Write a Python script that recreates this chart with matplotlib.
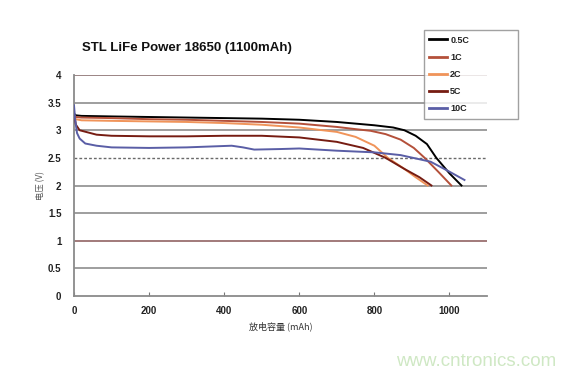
import numpy as np
import matplotlib
matplotlib.use("Agg")
import matplotlib.pyplot as plt

plt.rcParams['font.family'] = ['Liberation Sans', 'Noto Sans CJK SC', 'DejaVu Sans']

# discharge curves: capacity (mAh) vs voltage (V)
cap_05c = [0, 5, 20, 100, 200, 300, 400, 500, 600, 650, 700, 750, 800, 850, 880, 910, 940, 965, 1000, 1032]
v_05c = [3.30, 3.27, 3.26, 3.25, 3.24, 3.23, 3.22, 3.21, 3.19, 3.17, 3.15, 3.12, 3.09, 3.05, 3.00, 2.90, 2.75, 2.50, 2.22, 2.00]

cap_1c = [0, 5, 20, 100, 200, 300, 400, 500, 600, 650, 700, 750, 790, 830, 870, 905, 934, 970, 1005]
v_1c = [3.28, 3.24, 3.23, 3.22, 3.20, 3.19, 3.17, 3.15, 3.12, 3.09, 3.06, 3.02, 2.99, 2.93, 2.83, 2.68, 2.50, 2.25, 2.00]

cap_2c = [0, 5, 20, 100, 200, 300, 400, 500, 600, 700, 750, 800, 836, 880, 910, 942]
v_2c = [3.25, 3.20, 3.18, 3.17, 3.16, 3.15, 3.13, 3.10, 3.05, 2.97, 2.88, 2.72, 2.50, 2.30, 2.15, 2.00]

cap_5c = [0, 5, 15, 60, 100, 200, 300, 400, 500, 600, 700, 770, 830, 880, 920, 952]
v_5c = [3.30, 3.10, 3.00, 2.92, 2.90, 2.89, 2.89, 2.90, 2.90, 2.87, 2.79, 2.68, 2.50, 2.30, 2.15, 2.00]

cap_10c = [0, 3, 8, 15, 30, 60, 100, 200, 300, 380, 420, 450, 480, 550, 600, 700, 800, 870, 950, 1000, 1040]
v_10c = [3.45, 3.20, 2.95, 2.85, 2.76, 2.72, 2.69, 2.68, 2.69, 2.71, 2.72, 2.69, 2.65, 2.66, 2.67, 2.63, 2.60, 2.55, 2.43, 2.25, 2.10]

labels = ['0.5C', '1C', '2C', '5C', '10C']
colors = ['#000000', '#b4503a', '#f0945a', '#761c12', '#5a5ea6']

y_ticks = [0, 0.5, 1, 1.5, 2, 2.5, 3, 3.5, 4]
x_ticks = [0, 200, 400, 600, 800, 1000]

fig = plt.figure(figsize=(5.64, 3.77), dpi=100)
ax = fig.add_axes([74 / 564, 1 - 296 / 377, (487 - 74) / 564, (296 - 75) / 377])

# horizontal grid lines
for y in y_ticks[1:]:
    if y == 2.5:
        ax.axhline(y, color='#6a6a6a', lw=1.0, ls=(0, (2, 1.5)), zorder=1)
    elif y == 1:
        ax.axhline(y, color='#9a7070', lw=1.3, zorder=1)
    elif y == 4:
        ax.axhline(y, color='#8a7070', lw=1.2, zorder=1)
    else:
        ax.axhline(y, color='#8e8e8e', lw=1.2, zorder=1)

series = [(cap_05c, v_05c), (cap_1c, v_1c), (cap_2c, v_2c), (cap_5c, v_5c), (cap_10c, v_10c)]
for (c, v), lab, col in zip(series, labels, colors):
    ax.plot(c, v, color=col, lw=1.4, label=lab, zorder=3)

ax.set_xlim(0, 1100)
ax.set_ylim(0, 4)
ax.set_xticks(x_ticks)
ax.set_yticks(y_ticks)
ax.set_yticklabels(['0', '0.5', '1', '1.5', '2', '2.5', '3', '3.5', '4'])
ax.tick_params(axis='x', direction='in', length=3, color='#777777', labelsize=7, pad=7)
ax.tick_params(axis='y', length=0, labelsize=7, pad=9)
for t in ax.get_xticklabels() + ax.get_yticklabels():
    t.set_fontweight('bold')
    t.set_color('#222222')

for s in ['top', 'right']:
    ax.spines[s].set_visible(False)
for s in ['left', 'bottom']:
    ax.spines[s].set_color('#8a8a8a')
    ax.spines[s].set_linewidth(1.3)

ax.set_xlabel('放电容量 (mAh)', fontsize=6.5, color='#333333', labelpad=4,
              family=['Noto Sans CJK SC', 'DejaVu Sans'])
ax.set_ylabel('电压 (V)', fontsize=6, color='#555555', labelpad=2,
              family=['Noto Sans CJK SC', 'DejaVu Sans'])

fig.text(82 / 564, 1 - 48 / 377, 'STL LiFe Power 18650 (1100mAh)', fontsize=9.5,
         fontweight='bold', va='center', ha='left', color='#111111')

leg = fig.legend(loc='upper left', bbox_to_anchor=(424 / 564, 1 - 34 / 377, 94 / 564, 0.01),
                 mode='expand', fontsize=6.5, frameon=True, fancybox=False,
                 handlelength=2.0, handletextpad=0.3, labelspacing=0.9,
                 borderpad=0.6, borderaxespad=0)
leg.get_frame().set_edgecolor('#8a8a8a')
leg.get_frame().set_linewidth(1.0)
for h in leg.get_lines():
    h.set_linewidth(2.0)
for t in leg.get_texts():
    t.set_fontweight('bold')
    t.set_color('#222222')

fig.text(476 / 564, 1 - 362 / 377, 'www.cntronics.com', fontsize=13.5, color='#cfe8c4',
         ha='center', va='center')

fig.savefig('out.png', dpi=100)
